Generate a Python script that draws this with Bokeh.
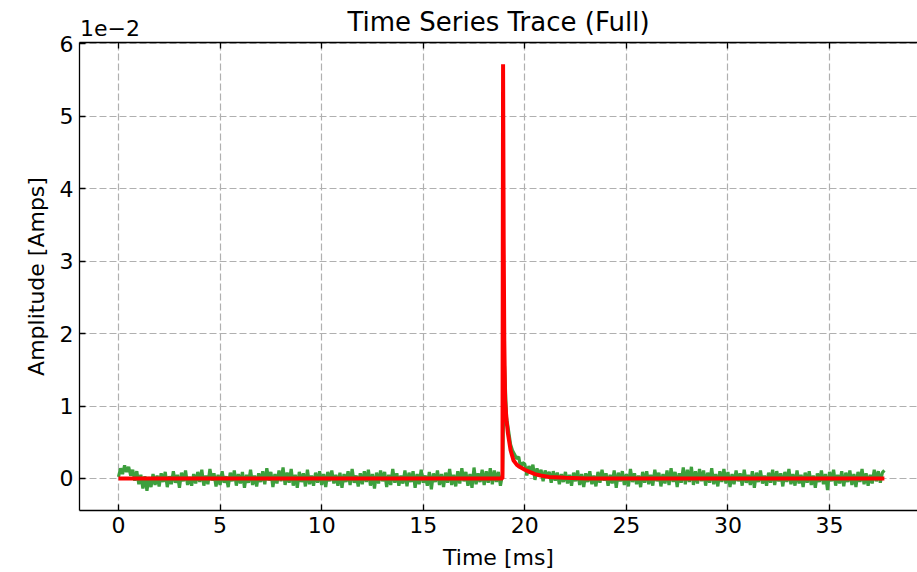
from bokeh.plotting import figure
from bokeh.models import (Range1d, FixedTicker, LinearAxis, ColumnDataSource,
                          CustomJSTickFormatter)
from bokeh.embed import file_html
from bokeh.resources import INLINE
import numpy as np

# Sampled trace, amplitude in units of 1e-2 A, one sample every 0.1 ms starting at t = 0
dt_ms = 0.1
trace_amp = [
    0.02, 0.14, 0.06, 0.18, 0.09, 0.16, 0.04, 0.12, -0.03, 0.10, -0.08, 0.05, -0.14, 0.03, -0.17, 0.02, -0.12, 0.06, -0.09, 0.04,
    -0.11, 0.07, -0.05, 0.09, -0.12, 0.03, -0.08, 0.10, -0.06, 0.05, -0.13, 0.08, -0.04, 0.11, -0.09, 0.02, -0.10, 0.06, -0.07, 0.09,
    -0.05, 0.12, -0.10, 0.04, -0.08, 0.13, -0.03, 0.07, -0.11, 0.05, -0.09, 0.10, -0.06, 0.03, -0.12, 0.08, -0.04, 0.11, -0.10, 0.06,
    -0.07, 0.09, -0.13, 0.05, -0.06, 0.12, -0.09, 0.04, -0.11, 0.07, -0.05, 0.10, -0.08, 0.14, -0.03, 0.09, -0.12, 0.06, -0.07, 0.11,
    -0.04, 0.15, -0.09, 0.08, -0.06, 0.13, -0.10, 0.05, -0.13, 0.09, -0.05, 0.07, -0.11, 0.12, -0.08, 0.04, -0.10, 0.08, -0.06, 0.10,
    -0.09, 0.06, -0.12, 0.09, -0.04, 0.11, -0.07, 0.05, -0.10, 0.08, -0.13, 0.06, -0.05, 0.10, -0.09, 0.13, -0.06, 0.04, -0.11, 0.07,
    -0.08, 0.10, -0.05, 0.12, -0.10, 0.06, -0.14, 0.08, -0.07, 0.11, -0.04, 0.09, -0.12, 0.05, -0.09, 0.13, -0.06, 0.07, -0.10, 0.04,
    -0.07, 0.11, -0.11, 0.08, -0.05, 0.10, -0.13, 0.06, -0.08, 0.12, -0.06, 0.04, -0.10, 0.09, -0.15, 0.07, -0.05, 0.11, -0.09, 0.06,
    -0.12, 0.08, -0.06, 0.13, -0.09, 0.05, -0.11, 0.10, -0.07, 0.14, -0.04, 0.09, -0.10, 0.06, -0.13, 0.15, -0.08, 0.07, -0.05, 0.12,
    -0.09, 0.10, -0.06, 0.14, -0.08, 0.11, -0.05, 0.09, -0.10, 0.05, 1.55, 0.85, 0.66, 0.47, 0.38, 0.33, 0.27, 0.30, 0.14, 0.22,
    0.20, 0.04, 0.17, 0.09, 0.19, -0.02, 0.14, 0.03, 0.12, -0.04, 0.11, 0.01, 0.09, -0.06, 0.10, -0.03, 0.08, -0.08, 0.06, -0.05,
    0.09, -0.07, 0.05, -0.10, 0.08, -0.04, 0.11, -0.09, 0.06, -0.12, 0.07, -0.05, 0.10, -0.08, 0.04, -0.11, 0.09, -0.06, 0.12, -0.03,
    0.07, -0.10, 0.05, -0.07, 0.11, -0.13, 0.08, -0.04, 0.10, -0.09, 0.06, -0.11, 0.13, -0.05, 0.07, -0.08, 0.04, -0.12, 0.09, -0.06,
    0.10, -0.08, 0.05, -0.10, 0.12, -0.04, 0.08, -0.11, 0.06, -0.07, 0.11, -0.09, 0.14, -0.05, 0.09, -0.12, 0.07, -0.06, 0.15, -0.08,
    0.12, -0.05, 0.16, -0.09, 0.10, -0.07, 0.13, -0.04, 0.11, -0.10, 0.08, -0.06, 0.14, -0.08, 0.06, -0.11, 0.10, -0.05, 0.13, -0.07,
    0.09, -0.12, 0.06, -0.08, 0.11, -0.04, 0.07, -0.10, 0.12, -0.06, 0.05, -0.09, 0.10, -0.13, 0.08, -0.05, 0.11, -0.07, 0.04, -0.10,
    0.08, -0.06, 0.12, -0.09, 0.10, -0.04, 0.07, -0.11, 0.09, -0.05, 0.13, -0.08, 0.06, -0.10, 0.11, -0.07, 0.05, -0.12, 0.08, -0.06,
    0.10, -0.09, 0.04, -0.13, 0.07, -0.05, 0.11, -0.08, 0.06, -0.16, 0.09, -0.04, 0.12, -0.10, 0.05, -0.07, 0.10, -0.11, 0.08, -0.05,
    0.11, -0.09, 0.06, -0.12, 0.09, -0.05, 0.13, -0.08, 0.07, -0.10, 0.05, -0.07, 0.12, -0.04, 0.10, -0.06, 0.08, 0.11,
]
trace_t = list(np.arange(len(trace_amp)) * dt_ms)

# Pulse fit (time in ms, amplitude in units of 1e-2 A)
fit_t = [0.0, 18.90, 18.93, 18.96, 18.99, 19.03, 19.10, 19.17, 19.30, 19.44, 19.60, 19.74,
         20.00, 20.23, 20.50, 20.77, 21.20, 22.00, 23.00, 37.70]
fit_amp = [0.0, 0.0, 5.72, 3.30, 1.90, 1.08, 0.80, 0.62, 0.39, 0.25, 0.19, 0.16,
           0.12, 0.09, 0.06, 0.04, 0.02, 0.01, 0.0, 0.0]

x_ticks = [0, 5, 10, 15, 20, 25, 30, 35]
y_ticks = [0, 1, 2, 3, 4, 5, 6]

FONT = "DejaVu Sans"
TICK_PX = "22px"

p = figure(width=917, height=572, output_backend="svg", toolbar_location=None,
           x_range=Range1d(-1.92, 39.33), y_range=Range1d(-0.443, 6.02),
           min_border_left=79, min_border_right=0, min_border_top=42, min_border_bottom=62)
p.background_fill_color = "white"
p.border_fill_color = "white"
p.outline_line_color = None
p.title.visible = False
p.title.standoff = 0

for ax in (p.xaxis[0], p.yaxis[0]):
    ax.axis_line_width = 1.3
    ax.axis_line_color = "black"
    ax.major_tick_in = 6
    ax.major_tick_out = 0
    ax.major_tick_line_width = 1.3
    ax.minor_tick_line_color = None
    ax.major_label_text_font = FONT
    ax.major_label_text_font_size = TICK_PX
    ax.major_label_text_color = "black"
    ax.major_label_standoff = 6
    ax.axis_label_text_font = FONT
    ax.axis_label_text_font_size = TICK_PX
    ax.axis_label_text_font_style = "normal"
    ax.axis_label_text_color = "black"

p.xaxis[0].ticker = FixedTicker(ticks=x_ticks)
p.yaxis[0].ticker = FixedTicker(ticks=y_ticks)
p.xaxis[0].axis_label = "Time [ms]"
p.yaxis[0].axis_label = "Amplitude [Amps]"
p.xaxis[0].axis_label_standoff = 9
p.yaxis[0].axis_label_standoff = 8

# Top spine: inward ticks at the time ticks, the y scale factor near its left end,
# and the chart title as the axis label
scale_label_at = -0.42
top = LinearAxis(ticker=FixedTicker(ticks=[scale_label_at], minor_ticks=x_ticks),
                 formatter=CustomJSTickFormatter(code="return '1e\\u22122';"),
                 axis_line_width=1.3, axis_line_color="black",
                 major_tick_line_color=None, major_tick_in=0, major_tick_out=0,
                 minor_tick_line_color="black", minor_tick_line_width=1.3,
                 minor_tick_in=6, minor_tick_out=0,
                 major_label_text_font=FONT, major_label_text_font_size=TICK_PX,
                 major_label_text_color="black", major_label_standoff=7,
                 axis_label="Time Series Trace (Full)", axis_label_text_font=FONT,
                 axis_label_text_font_size="26px", axis_label_text_font_style="normal",
                 axis_label_text_color="black", axis_label_standoff=-20)
p.add_layout(top, "above")

p.grid.grid_line_color = "#b0b0b0"
p.grid.grid_line_dash = "7 3"
p.grid.grid_line_width = 1.2
p.xgrid.ticker = FixedTicker(ticks=x_ticks)
p.ygrid.ticker = FixedTicker(ticks=y_ticks)

src_trace = ColumnDataSource(dict(t=trace_t, a=trace_amp))
src_fit = ColumnDataSource(dict(t=fit_t, a=fit_amp))
p.line("t", "a", source=src_trace, line_color="#3d9f3d", line_width=3.2)
p.line("t", "a", source=src_fit, line_color="#ff0000", line_width=4)

open("out.html", "w").write(file_html(p, INLINE))
